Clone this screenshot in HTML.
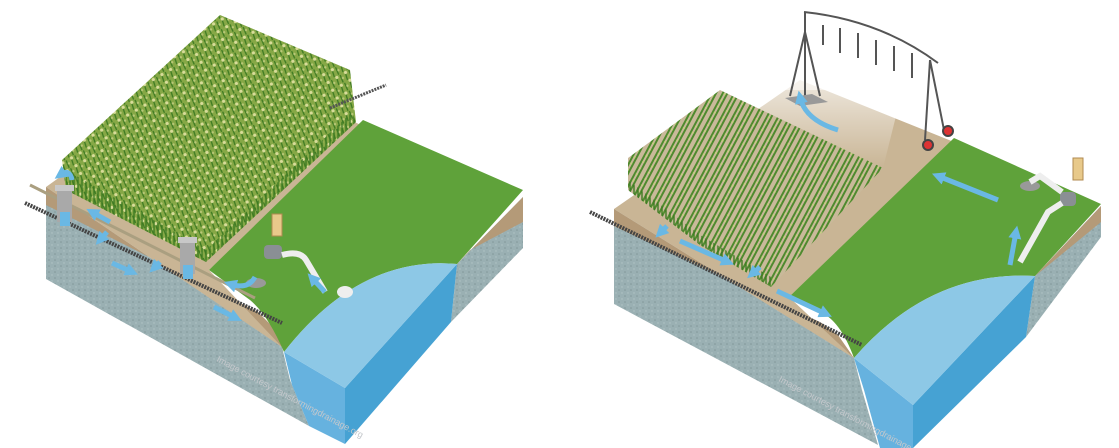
<!DOCTYPE html>
<html><head><meta charset="utf-8"><style>
html,body{margin:0;padding:0;background:#fff;}
svg{display:block;font-family:"Liberation Sans",sans-serif;}
</style></head><body>
<svg width="1119" height="448" viewBox="0 0 1119 448" xmlns="http://www.w3.org/2000/svg">
<defs>
<pattern id="corn" width="10" height="9" patternUnits="userSpaceOnUse" patternTransform="rotate(-30)">
<rect width="10" height="9" fill="#86a846"/>
<path d="M1 9 L3 0 M6 9 L7 1" stroke="#3d7a22" stroke-width="1.3"/>
<circle cx="3" cy="1.5" r="1.6" fill="#d8dc9a"/>
<circle cx="8" cy="5" r="1.2" fill="#b9c878"/>
</pattern>
<pattern id="corn2" width="10" height="7" patternUnits="userSpaceOnUse" patternTransform="rotate(28)">
<rect width="10" height="7" fill="#c9b99a"/>
<path d="M2 0 L2 7 M6 0 L6 7" stroke="#4f8a2e" stroke-width="2"/>
<circle cx="4" cy="2" r="1.2" fill="#c8cc86"/>
</pattern>
<pattern id="stalk" width="4" height="10" patternUnits="userSpaceOnUse">
<rect width="4" height="10" fill="none"/>
<path d="M2 0 L2 10" stroke="#3d7a22" stroke-width="1.4"/>
</pattern>
<pattern id="gravel" width="6" height="6" patternUnits="userSpaceOnUse">
<rect width="6" height="6" fill="#9ab0b3"/>
<circle cx="1" cy="2" r=".8" fill="#819799"/><circle cx="4" cy="5" r=".7" fill="#b3c5c7"/>
</pattern>
<linearGradient id="fade" x1="0" y1="0" x2="0" y2="1">
<stop offset="0" stop-color="#fff" stop-opacity="1"/><stop offset="1" stop-color="#fff" stop-opacity="0"/>
</linearGradient>
<marker id="ah" viewBox="0 0 10 10" refX="5" refY="5" markerWidth="2.6" markerHeight="2.6" orient="auto"><path d="M0 0 L10 5 L0 10 z" fill="#6ab8e4"/></marker>
</defs>

<!-- ============ LEFT BLOCK ============ -->
<polygon points="46,187 282,347 290,380 309,426 46,279" fill="url(#gravel)"/>
<polygon points="46,187 282,347 276,330 258,312 46,205" fill="#b49a78"/>
<polygon points="457,264 523,197 523,248 451,322" fill="url(#gravel)"/>
<polygon points="457,264 523,197 523,222 470,250" fill="#b49a78"/>
<polygon points="284,352 345,388 345,444 309,426 292,385" fill="#66b2df"/>
<polygon points="345,388 457,264 451,322 345,444" fill="#46a2d3"/>
<polygon points="46,187 223,60 363,126 209,270 282,347" fill="#c9b595"/>
<path d="M363,120 L523,190 L457,264 Q360,255 284,352 Q268,315 250,300 L209,270 Z" fill="#5fa23a"/>
<path d="M284,352 Q360,255 457,264 L345,388 Z" fill="#8dc8e6"/>
<polygon points="62,160 220,15 350,70 356,122 206,262 66,190" fill="url(#corn)"/>
<polygon points="66,170 206,250 206,262 66,190" fill="url(#stalk)"/>
<polygon points="206,250 352,112 356,122 206,262" fill="url(#stalk)"/>
<line x1="25" y1="203" x2="282" y2="323" stroke="#444" stroke-width="4" stroke-dasharray="2 1"/>
<line x1="330" y1="108" x2="386" y2="85" stroke="#555" stroke-width="3" stroke-dasharray="2 1"/>
<line x1="30" y1="185" x2="255" y2="298" stroke="#aa9f80" stroke-width="3"/>
<rect x="57" y="188" width="15" height="34" fill="#a9a9a9"/><rect x="55" y="185" width="19" height="6" fill="#c8c8c8"/>
<rect x="180" y="240" width="15" height="34" fill="#a9a9a9"/><rect x="178" y="237" width="19" height="6" fill="#c8c8c8"/>
<rect x="60" y="212" width="10" height="14" fill="#6ab8e4"/><rect x="183" y="265" width="10" height="14" fill="#6ab8e4"/>
<rect x="272" y="214" width="10" height="22" fill="#e8c98a" stroke="#b08a50"/>
<rect x="264" y="245" width="18" height="14" rx="4" fill="#8a8f94"/>
<ellipse cx="256" cy="283" rx="10" ry="5" fill="#999"/>
<path d="M282,255 Q300,250 306,260 L325,292" stroke="#eee" stroke-width="6" fill="none"/>
<ellipse cx="345" cy="292" rx="8" ry="6" fill="#eee"/>
<g stroke="#6ab8e4" stroke-width="5" fill="none" marker-end="url(#ah)">
<line x1="110" y1="222" x2="92" y2="212"/>
<line x1="112" y1="263" x2="132" y2="272"/>
<line x1="214" y1="307" x2="236" y2="318"/>
<line x1="107" y1="232" x2="100" y2="240"/>
<line x1="160" y1="262" x2="154" y2="268"/>
<path d="M255,277 Q248,290 230,284"/>
<line x1="325" y1="292" x2="312" y2="278"/>
<path d="M72,180 Q70,168 60,175"/>
</g>
<text transform="translate(216,361) rotate(28)" font-size="9" fill="#c4c8cc">Image courtesy transformingdrainage.org</text>

<!-- ============ RIGHT BLOCK ============ -->
<polygon points="614,209 854,358 862,390 878,445 614,304" fill="url(#gravel)"/>
<polygon points="614,209 854,358 838,335 820,322 614,226" fill="#b49a78"/>
<polygon points="1035,276 1101,206 1101,237 1026,337" fill="url(#gravel)"/>
<polygon points="1035,276 1101,206 1101,222 1045,268" fill="#b49a78"/>
<polygon points="854,358 913,405 913,448 880,448 864,390" fill="#66b2df"/>
<polygon points="913,405 1035,276 1026,337 913,448" fill="#46a2d3"/>
<polygon points="614,209 800,80 954,142 789,297 854,358" fill="#c9b595"/>
<path d="M954,138 L1101,204 L1035,276 Q930,270 854,358 Q840,320 820,312 L789,297 Z" fill="#5fa23a"/>
<path d="M854,358 Q930,270 1035,276 L913,405 Z" fill="#8dc8e6"/>
<polygon points="628,158 720,90 883,168 771,287 700,245 628,190" fill="url(#corn2)"/>
<polygon points="628,180 700,235 771,277 771,287 700,245 628,190" fill="url(#stalk)"/>
<polygon points="628,110 760,40 900,100 883,168 720,90 628,158" fill="url(#fade)"/>
<rect x="600" y="0" width="340" height="90" fill="#fff" opacity=".5"/>
<g stroke="#555" stroke-width="2" fill="none">
<path d="M804,12 Q880,20 938,63"/>
<path d="M805,32 L790,96 M805,32 L820,96 M805,12 L805,100"/>
<path d="M930,60 L925,140 M930,60 L945,135"/>
<path d="M823,25 l0,20 M840,28 l0,25 M858,33 l0,25 M876,40 l0,25 M894,46 l0,25 M912,53 l0,25"/>
</g>
<polygon points="785,98 812,94 828,102 800,106" fill="#999"/>
<circle cx="928" cy="145" r="5" fill="#d33" stroke="#444" stroke-width="2"/>
<circle cx="948" cy="131" r="5" fill="#d33" stroke="#444" stroke-width="2"/>
<rect x="1073" y="158" width="10" height="22" fill="#e8c98a" stroke="#b08a50"/>
<rect x="1060" y="192" width="16" height="14" rx="4" fill="#8a8f94"/>
<ellipse cx="1030" cy="186" rx="10" ry="5" fill="#999"/>
<path d="M1030,182 L1040,176 L1062,192 M1062,203 L1048,212 L1020,262" stroke="#eee" stroke-width="6" fill="none"/>
<line x1="590" y1="212" x2="862" y2="345" stroke="#444" stroke-width="4" stroke-dasharray="2 1"/>
<g stroke="#6ab8e4" stroke-width="5" fill="none" marker-end="url(#ah)">
<line x1="680" y1="241" x2="728" y2="262"/>
<line x1="777" y1="291" x2="826" y2="314"/>
<line x1="998" y1="200" x2="938" y2="176"/>
<path d="M838,130 Q805,120 800,97"/>
<line x1="1010" y1="265" x2="1016" y2="232"/>
<line x1="667" y1="226" x2="660" y2="233"/>
<line x1="760" y1="267" x2="752" y2="274"/>
</g>
<text transform="translate(778,381) rotate(28)" font-size="9" fill="#c4c8cc">Image courtesy transformingdrainage.org</text>
</svg>
</body></html>
